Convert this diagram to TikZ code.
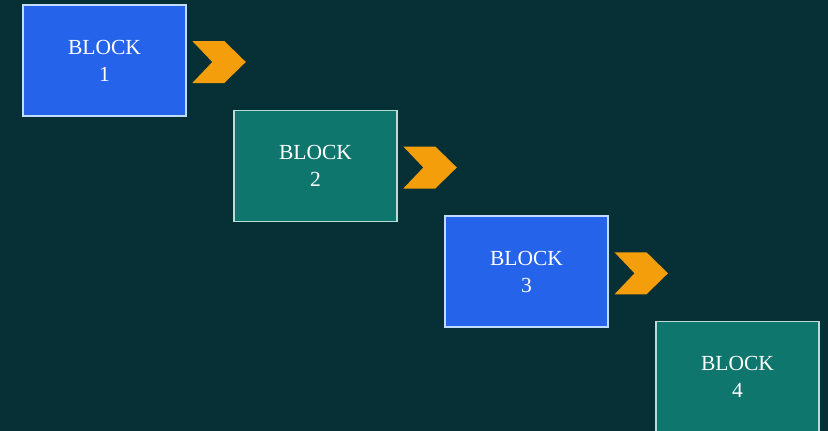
\documentclass[tikz,border=0pt]{standalone}
\usepackage{fontspec}
\setmainfont{Liberation Serif}
\definecolor{bgdark}{HTML}{062F36}
\definecolor{blockblue}{HTML}{2563EB}
\definecolor{blockteal}{HTML}{0F766E}
\definecolor{edgeblue}{HTML}{BFDBFE}
\definecolor{edgeteal}{HTML}{B8DCD6}
\definecolor{chevron}{HTML}{F59E0B}
\tikzset{
  blockbox/.style={draw, line width=1.3pt, minimum width=163pt, minimum height=111pt,
    inner sep=0pt, align=center, text=white,
    font=\fontsize{21.5}{27}\selectfont},
  bluebox/.style={blockbox, fill=blockblue, draw=edgeblue},
  tealbox/.style={blockbox, fill=blockteal, draw=edgeteal},
  chevshape/.style={fill=chevron, draw=none}
}
\newcommand{\chevronat}[2]{%
  \fill[chevshape] (#1,#2) ++(0,-21) -- ++(32,0) -- ++(21.5,21) -- ++(-21.5,21)
    -- ++(-32,0) -- ++(20,-21) -- cycle;}
\begin{document}
\begin{tikzpicture}[x=1pt,y=-1pt]
  \useasboundingbox (0,0) rectangle (828,431);
  \fill[bgdark] (0,0) rectangle (828,431);
  \begin{scope}
    \clip (0,0) rectangle (828,431);
    \node[bluebox] (b1) at (104.5,60.5) {BLOCK\\1};
    \node[tealbox] (b2) at (315.5,166) {BLOCK\\2};
    \node[bluebox] (b3) at (526.5,271.5) {BLOCK\\3};
    \node[tealbox] (b4) at (737.5,377) {BLOCK\\4};
  \end{scope}
  % chevrons between consecutive blocks
  \chevronat{192.3}{62}
  \chevronat{403.3}{167.5}
  \chevronat{614.5}{273.3}
\end{tikzpicture}
\end{document}
